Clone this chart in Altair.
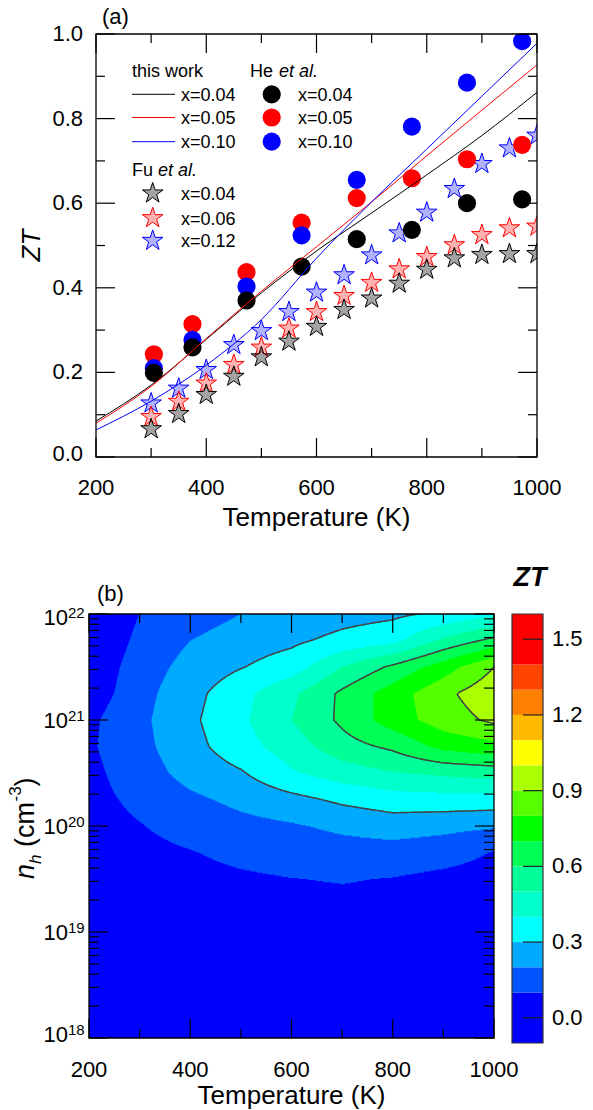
import numpy as np
import pandas as pd
import altair as alt

FONT = "Liberation Sans"
ONE = pd.DataFrame({"a": [0]})

# ---------------- panel (a) values ----------------
T_this = [200, 300, 400, 500, 600, 700, 800, 900, 1000]
this_x004 = [0.085, 0.170, 0.278, 0.388, 0.487, 0.577, 0.667, 0.760, 0.862]
this_x005 = [0.080, 0.167, 0.280, 0.392, 0.497, 0.603, 0.712, 0.820, 0.927]
this_x010 = [0.064, 0.132, 0.217, 0.325, 0.470, 0.603, 0.728, 0.853, 0.978]

T_he = [305, 375, 473, 573, 673, 773, 873, 973]
he_x004 = [0.199, 0.259, 0.370, 0.450, 0.515, 0.537, 0.600, 0.609]
he_x005 = [0.243, 0.314, 0.437, 0.554, 0.612, 0.659, 0.704, 0.738]
he_x010 = [0.210, 0.277, 0.403, 0.524, 0.655, 0.781, 0.885, 0.983]

T_fu = [300, 350, 400, 450, 500, 550, 600, 650, 700, 750, 800, 850, 900, 950, 1000]
fu_x004 = [0.066, 0.102, 0.147, 0.190, 0.236, 0.273, 0.308, 0.348, 0.375, 0.410, 0.443, 0.470, 0.478, 0.480, 0.480]
fu_x006 = [0.095, 0.131, 0.174, 0.218, 0.259, 0.304, 0.343, 0.381, 0.412, 0.444, 0.473, 0.501, 0.525, 0.541, 0.545]
fu_x012 = [0.127, 0.162, 0.206, 0.265, 0.298, 0.343, 0.389, 0.430, 0.477, 0.529, 0.578, 0.634, 0.693, 0.730, 0.760]

a_x_major = [200, 400, 600, 800, 1000]
a_x_minor = [300, 500, 700, 900]
a_x_labels = ["200", "400", "600", "800", "1000"]
a_y_major = [0.0, 0.2, 0.4, 0.6, 0.8, 1.0]
a_y_minor = [0.1, 0.3, 0.5, 0.7, 0.9]
a_y_labels = ["0.0", "0.2", "0.4", "0.6", "0.8", "1.0"]

# ---------------- panel (b) values (ZT on a T x log10(n) grid) ----------------
b_logn = [18.0, 18.5, 19.0, 19.25, 19.5, 19.75, 20.0, 20.25, 20.5, 20.75, 21.0, 21.25, 21.5, 21.75, 22.0]
b_T = [200, 250, 300, 400, 500, 600, 700, 800, 900, 1000]
zt_T200 = [0.0, 0.0, 0.01, 0.015, 0.025, 0.035, 0.045, 0.06, 0.07, 0.085, 0.08, 0.05, 0.03, 0.01, 0.0]
zt_T250 = [0.0, 0.01, 0.02, 0.03, 0.04, 0.055, 0.075, 0.095, 0.115, 0.13, 0.125, 0.10, 0.085, 0.06, 0.04]
zt_T300 = [0.0, 0.01, 0.025, 0.035, 0.05, 0.07, 0.095, 0.125, 0.152, 0.17, 0.176, 0.165, 0.148, 0.125, 0.10]
zt_T400 = [0.005, 0.015, 0.035, 0.05, 0.07, 0.095, 0.14, 0.18, 0.235, 0.265, 0.28, 0.265, 0.235, 0.20, 0.15]
zt_T500 = [0.01, 0.02, 0.045, 0.065, 0.085, 0.125, 0.17, 0.225, 0.29, 0.36, 0.38, 0.37, 0.295, 0.25, 0.20]
zt_T600 = [0.01, 0.025, 0.05, 0.07, 0.098, 0.145, 0.19, 0.27, 0.39, 0.45, 0.50, 0.48, 0.35, 0.28, 0.22]
zt_T700 = [0.01, 0.025, 0.05, 0.075, 0.106, 0.16, 0.22, 0.32, 0.45, 0.56, 0.62, 0.62, 0.50, 0.33, 0.26]
zt_T800 = [0.01, 0.02, 0.04, 0.065, 0.096, 0.16, 0.245, 0.355, 0.495, 0.62, 0.75, 0.75, 0.62, 0.37, 0.28]
zt_T900 = [0.005, 0.015, 0.035, 0.05, 0.075, 0.14, 0.23, 0.36, 0.52, 0.73, 0.85, 0.875, 0.75, 0.52, 0.32]
zt_T1000 = [0.005, 0.01, 0.025, 0.04, 0.06, 0.095, 0.21, 0.36, 0.54, 0.77, 0.92, 0.97, 0.90, 0.63, 0.38]

zt_levels = [0.1, 0.2, 0.3, 0.4, 0.5, 0.6, 0.7, 0.8, 0.9, 1.0, 1.1, 1.2, 1.3, 1.4]
zt_colors = ["#0000FF", "#0055FF", "#00AAFF", "#00FFFF", "#00FFCC", "#00FF99", "#00FF55",
             "#00FF00", "#55FF00", "#AAFF00", "#FFFF00", "#FFBB00", "#FF8000", "#FF4400", "#FF0000"]
contour_lines = [0.3, 0.6, 0.9]
cbar_ticks = [0.0, 0.3, 0.6, 0.9, 1.2, 1.5]
cbar_labels = ["0.0", "0.3", "0.6", "0.9", "1.2", "1.5"]
b_x_major = [200, 400, 600, 800, 1000]
b_x_minor = [300, 500, 700, 900]
b_x_labels = ["200", "400", "600", "800", "1000"]
b_y_exp = [18, 19, 20, 21, 22]

STAR = ("M0,-1L0.2245,-0.309L0.9511,-0.309L0.3633,0.118L0.5878,0.809L0,0.382"
        "L-0.5878,0.809L-0.3633,0.118L-0.9511,-0.309L-0.2245,-0.309Z")


def txt(s, x, y, size=18, align="left", baseline="alphabetic", angle=0, style="normal", weight="normal"):
    return alt.Chart(ONE).mark_text(
        text=s, align=align, baseline=baseline, font=FONT, fontSize=size, angle=angle,
        fontStyle=style, fontWeight=weight, color="black"
    ).encode(x=alt.value(x), y=alt.value(y))


# =============== panel (a) ===============
# the view starts 7 px left of panel (a)'s plot area so that both panels share a left edge
OX = 7
W_A, H_A = 441, 423
xa = alt.Scale(domain=[200, 1000], range=[OX, OX + W_A], nice=False, zero=False)
ya = alt.Scale(domain=[0, 1], nice=False, zero=False)


def XA(f):
    return alt.X(f, type="quantitative", scale=xa, axis=None)


def YA(f):
    return alt.Y(f, type="quantitative", scale=ya, axis=None)


layers_a = []
# canvas anchor (white background covering the whole page)
layers_a.append(alt.Chart(ONE).mark_rect(color="white").encode(
    x=alt.value(-89), x2=alt.value(504), y=alt.value(-34), y2=alt.value(1076)))

# Fu et al. stars
for vals, fill, stroke, fo in [(fu_x012, "#0000FF", "#0000FF", 0.3),
                               (fu_x006, "#FF0000", "#FF0000", 0.3),
                               (fu_x004, "#000000", "#000000", 0.36)]:
    df = pd.DataFrame({"T": T_fu, "zt": vals})
    layers_a.append(alt.Chart(df).mark_point(
        shape=STAR, size=470, filled=True, fill=fill, fillOpacity=fo, stroke=stroke,
        strokeWidth=1, opacity=1, clip=True).encode(x=XA("T"), y=YA("zt")))

# He et al. circles
for vals, col in [(he_x005, "#FF0000"), (he_x010, "#0000FF"), (he_x004, "#000000")]:
    df = pd.DataFrame({"T": T_he, "zt": vals})
    layers_a.append(alt.Chart(df).mark_point(
        shape="circle", size=330, filled=True, color=col, opacity=1, clip=True
    ).encode(x=XA("T"), y=YA("zt")))

# this work lines
for vals, col in [(this_x004, "#000000"), (this_x005, "#FF0000"), (this_x010, "#0000FF")]:
    df = pd.DataFrame({"T": T_this, "zt": vals})
    layers_a.append(alt.Chart(df).mark_line(
        color=col, strokeWidth=1, interpolate="monotone", clip=True
    ).encode(x=XA("T"), y=YA("zt")))

# ticks
for vals, ln in [(a_x_major, 19), (a_x_minor, 9)]:
    df = pd.DataFrame({"T": vals})
    layers_a.append(alt.Chart(df).mark_rule(color="black", strokeWidth=1.2).encode(
        x=XA("T"), y=alt.value(H_A), y2=alt.value(H_A - ln)))
    layers_a.append(alt.Chart(df).mark_rule(color="black", strokeWidth=1.2).encode(
        x=XA("T"), y=alt.value(0), y2=alt.value(ln)))
for vals, ln in [(a_y_major, 19), (a_y_minor, 9)]:
    df = pd.DataFrame({"zt": vals})
    layers_a.append(alt.Chart(df).mark_rule(color="black", strokeWidth=1.2).encode(
        y=YA("zt"), x=alt.value(OX), x2=alt.value(OX + ln)))
    layers_a.append(alt.Chart(df).mark_rule(color="black", strokeWidth=1.2).encode(
        y=YA("zt"), x=alt.value(OX + W_A), x2=alt.value(OX + W_A - ln)))

# frame
frame_a = pd.DataFrame({"t0": [200], "t1": [1000], "z0": [0], "z1": [1]})
layers_a.append(alt.Chart(frame_a).mark_rect(filled=False, stroke="black", strokeWidth=1.3).encode(
    x=XA("t0"), x2="t1", y=YA("z0"), y2="z1"))

# tick labels
layers_a.append(alt.Chart(pd.DataFrame({"T": a_x_major, "lab": a_x_labels})).mark_text(
    font=FONT, fontSize=22, align="center", baseline="alphabetic", color="black").encode(
    x=XA("T"), y=alt.value(H_A + 38), text="lab:N"))
ylab_a = pd.DataFrame({"zt": a_y_major, "lab": a_y_labels})
layers_a.append(alt.Chart(ylab_a.iloc[1:]).mark_text(
    font=FONT, fontSize=22, align="right", baseline="middle", color="black").encode(
    y=YA("zt"), x=alt.value(OX - 13), text="lab:N"))
layers_a.append(alt.Chart(ylab_a.iloc[:1]).mark_text(
    font=FONT, fontSize=22, align="right", baseline="middle", dy=-3, color="black").encode(
    y=YA("zt"), x=alt.value(OX - 13), text="lab:N"))

# titles
layers_a.append(txt("Temperature (K)", OX + W_A / 2, H_A + 69, size=26, align="center"))
layers_a.append(txt("ZT", OX - 56, H_A / 2, size=26, align="center", angle=270, style="italic"))
layers_a.append(txt("(a)", OX + 6, -10, size=22))

# legend
layers_a.append(txt("this work", OX + 36, 42.5))
layers_a.append(txt("He", OX + 154, 42.5))
layers_a.append(txt("et al.", OX + 183, 42.5, style="italic"))
layers_a.append(txt("Fu", OX + 36, 142))
layers_a.append(txt("et al.", OX + 62, 142, style="italic"))
for yy, col, lab in [(60.3, "#000000", "x=0.04"), (83.5, "#FF0000", "x=0.05"), (107.7, "#0000FF", "x=0.10")]:
    layers_a.append(alt.Chart(ONE).mark_rule(color=col, strokeWidth=1).encode(
        x=alt.value(OX + 36), x2=alt.value(OX + 79), y=alt.value(yy)))
    layers_a.append(txt(lab, OX + 85, yy + 6.3))
    layers_a.append(alt.Chart(ONE).mark_point(shape="circle", size=330, filled=True, color=col, opacity=1).encode(
        x=alt.value(OX + 175.7), y=alt.value(yy)))
    layers_a.append(txt(lab, OX + 202, yy + 6.3))
for yy, col, fo, lab in [(159.3, "#000000", 0.36, "x=0.04"), (184.0, "#FF0000", 0.3, "x=0.06"),
                         (206.7, "#0000FF", 0.3, "x=0.12")]:
    layers_a.append(alt.Chart(ONE).mark_point(
        shape=STAR, size=470, filled=True, fill=col, fillOpacity=fo, stroke=col, strokeWidth=1, opacity=1
    ).encode(x=alt.value(OX + 56.7), y=alt.value(yy)))
    layers_a.append(txt(lab, OX + 85, yy + 6.5))

panel_a = alt.layer(*layers_a).properties(width=OX + W_A, height=H_A)

# =============== panel (b) ===============
W_B, H_B = 405, 424
xb = alt.Scale(domain=[200, 1000], nice=False, zero=False)
yb = alt.Scale(type="log", domain=[1e18, 1e22], nice=False)
cscale = alt.Scale(type="threshold", domain=zt_levels, range=zt_colors)


def XB(f):
    return alt.X(f, type="quantitative", scale=xb, axis=None)


def YB(f):
    return alt.Y(f, type="quantitative", scale=yb, axis=None)


Zc = np.array([zt_T200, zt_T250, zt_T300, zt_T400, zt_T500, zt_T600, zt_T700, zt_T800, zt_T900, zt_T1000])


def field(Tq, Lq):
    cols = np.array([np.interp(Lq, b_logn, Zc[k]) for k in range(len(b_T))])
    return np.array([np.interp(Tq, b_T, cols[:, m]) for m in range(len(Lq))])


# filled bands rendered as row runs
dL = 0.01
L_rows = np.arange(18.0, 22.0 - 1e-9, dL) + dL / 2
T_f = np.arange(200.0, 1000.0 + 1e-9, 1.0)
Zf = field(T_f, L_rows)
bands = np.searchsorted(np.array(zt_levels), Zf, side="right")
recs = []
for r, L in enumerate(L_rows):
    b = bands[r]
    ch = np.flatnonzero(np.diff(b)) + 1
    starts = np.concatenate([[0], ch])
    ends = np.concatenate([ch, [len(b)]])
    for s, e in zip(starts, ends):
        if b[s] == 0:
            continue
        t0 = 200.0 if s == 0 else T_f[s] - 0.5
        t1 = 1000.0 if e == len(b) else min(1000.0, T_f[e - 1] + 1.5)
        recs.append((t0, t1, 10 ** (L - dL / 2), 10 ** min(22.0, L + 1.5 * dL), zt_levels[b[s] - 1] + 0.05))
fill_df = pd.DataFrame(recs, columns=["t0", "t1", "n0", "n1", "zt"])

# contour lines (marching squares on a fine grid)
T_c = np.arange(200.0, 1000.0 + 1e-9, 4.0)
L_c = np.arange(18.0, 22.0 + 1e-9, 0.02)
Zg = field(T_c, L_c)
segs = []
for lev in contour_lines:
    for j in range(len(L_c) - 1):
        row0 = Zg[j]
        row1 = Zg[j + 1]
        for i in range(len(T_c) - 1):
            c = [(i, j, row0[i]), (i + 1, j, row0[i + 1]), (i + 1, j + 1, row1[i + 1]), (i, j + 1, row1[i])]
            above = [v >= lev for (_, _, v) in c]
            if all(above) or not any(above):
                continue
            pts = []
            for k in range(4):
                a = c[k]
                bb = c[(k + 1) % 4]
                if (a[2] >= lev) != (bb[2] >= lev):
                    t = (lev - a[2]) / (bb[2] - a[2])
                    tx = T_c[a[0]] + t * (T_c[bb[0]] - T_c[a[0]])
                    ly = L_c[a[1]] + t * (L_c[bb[1]] - L_c[a[1]])
                    pts.append((tx, ly))
            for k in range(0, len(pts) - 1, 2):
                segs.append((pts[k][0], pts[k + 1][0], 10 ** pts[k][1], 10 ** pts[k + 1][1]))
seg_df = pd.DataFrame(segs, columns=["t0", "t1", "n0", "n1"])

layers_b = []
bg = pd.DataFrame({"t0": [200], "t1": [1000], "n0": [1e18], "n1": [1e22], "zt": [0.0]})
layers_b.append(alt.Chart(bg).mark_rect().encode(
    x=XB("t0"), x2="t1", y=YB("n0"), y2="n1", color=alt.Color("zt:Q", scale=cscale, legend=None)))
layers_b.append(alt.Chart(fill_df).mark_rect(clip=True).encode(
    x=XB("t0"), x2="t1", y=YB("n0"), y2="n1", color=alt.Color("zt:Q", scale=cscale, legend=None)))
layers_b.append(alt.Chart(seg_df).mark_rule(color="#444444", strokeWidth=1.4, strokeCap="round", clip=True).encode(
    x=XB("t0"), x2="t1", y=YB("n0"), y2="n1"))

# ticks
for vals, ln in [(b_x_major, 19), (b_x_minor, 9)]:
    df = pd.DataFrame({"T": vals})
    layers_b.append(alt.Chart(df).mark_rule(color="black", strokeWidth=1.2).encode(
        x=XB("T"), y=alt.value(H_B), y2=alt.value(H_B - ln)))
    layers_b.append(alt.Chart(df).mark_rule(color="black", strokeWidth=1.2).encode(
        x=XB("T"), y=alt.value(0), y2=alt.value(ln)))
y_major = [10.0 ** e for e in b_y_exp]
y_minor = [k * 10.0 ** d for d in b_y_exp[:-1] for k in range(2, 10)]
for vals, ln in [(y_major, 19), (y_minor, 10)]:
    df = pd.DataFrame({"n": vals})
    layers_b.append(alt.Chart(df).mark_rule(color="black", strokeWidth=1.2).encode(
        y=YB("n"), x=alt.value(0), x2=alt.value(ln)))
    layers_b.append(alt.Chart(df).mark_rule(color="black", strokeWidth=1.2).encode(
        y=YB("n"), x=alt.value(W_B), x2=alt.value(W_B - ln)))

frame_b = pd.DataFrame({"t0": [200], "t1": [1000], "n0": [1e18], "n1": [1e22]})
layers_b.append(alt.Chart(frame_b).mark_rect(filled=False, stroke="black", strokeWidth=1.3).encode(
    x=XB("t0"), x2="t1", y=YB("n0"), y2="n1"))

# tick labels
layers_b.append(alt.Chart(pd.DataFrame({"T": b_x_major, "lab": b_x_labels})).mark_text(
    font=FONT, fontSize=22, align="center", baseline="alphabetic", color="black").encode(
    x=XB("T"), y=alt.value(H_B + 39), text="lab:N"))
ylab_df = pd.DataFrame({"n": y_major, "e": [str(e) for e in b_y_exp]})
for part, shift in [(ylab_df.iloc[:1], -4), (ylab_df.iloc[1:4], 0), (ylab_df.iloc[4:], 3)]:
    layers_b.append(alt.Chart(part).mark_text(
        font=FONT, fontSize=22, align="right", baseline="alphabetic", dy=8 + shift, color="black").encode(
        y=YB("n"), x=alt.value(-21), text=alt.value("10")))
    layers_b.append(alt.Chart(part).mark_text(
        font=FONT, fontSize=15, align="left", baseline="alphabetic", dy=1 + shift, color="black").encode(
        y=YB("n"), x=alt.value(-21), text="e:N"))

# titles
layers_b.append(txt("Temperature (K)", W_B / 2, H_B + 66, size=26, align="center"))
layers_b.append(txt("(b)", 8, -13, size=22))
# y title: n_h (cm^-3), rotated, built from pieces
y0 = H_B / 2 + 53
pieces = [("n", 27, -55, "italic", 15.0), ("h", 17, -48, "italic", 17.0),
          ("(cm", 27, -55, "normal", 45.5), ("-3", 17, -68, "normal", 15.1), (")", 27, -55, "normal", 9.0)]
for s, fs, bx, st, w in pieces:
    layers_b.append(txt(s, bx, y0, size=fs, angle=270, style=st))
    y0 -= w

panel_b = alt.layer(*layers_b).properties(width=W_B, height=H_B)

# =============== colour bar ===============
W_C, H_C = 31, 429
yc = alt.Scale(domain=[-0.1, 1.6], nice=False, zero=False)
cb_lo = [-0.1] + zt_levels
cb_hi = zt_levels + [1.6]
cb_df = pd.DataFrame({"lo": cb_lo, "hi": cb_hi, "zt": [(a + b) / 2 for a, b in zip(cb_lo, cb_hi)]})
layers_c = [
    alt.Chart(cb_df).mark_rect().encode(
        x=alt.value(0), x2=alt.value(W_C),
        y=alt.Y("lo:Q", scale=yc, axis=None), y2="hi:Q",
        color=alt.Color("zt:Q", scale=cscale, legend=None)),
    alt.Chart(pd.DataFrame({"v": cbar_ticks})).mark_rule(color="#222222", strokeWidth=1.2).encode(
        y=alt.Y("v:Q", scale=yc, axis=None), x=alt.value(11), x2=alt.value(W_C)),
    alt.Chart(pd.DataFrame({"lo": [-0.1], "hi": [1.6]})).mark_rect(
        filled=False, stroke="#333333", strokeWidth=1.2).encode(
        x=alt.value(0), x2=alt.value(W_C), y=alt.Y("lo:Q", scale=yc, axis=None), y2="hi:Q"),
    alt.Chart(pd.DataFrame({"v": cbar_ticks, "lab": cbar_labels})).mark_text(
        font=FONT, fontSize=22, align="left", baseline="middle", color="black").encode(
        y=alt.Y("v:Q", scale=yc, axis=None), x=alt.value(40), text="lab:N"),
    txt("ZT", 18, -28, size=27, align="center", style="italic", weight="bold"),
]
cbar = alt.layer(*layers_c).properties(width=W_C, height=H_C)

row2 = alt.hconcat(panel_b, cbar, spacing=18, bounds="flush")
chart = alt.vconcat(panel_a, row2, spacing=157, bounds="flush").properties(
    padding=0).configure_view(strokeWidth=0)

chart.save("out.html", embed_options={"renderer": "svg", "actions": False})
